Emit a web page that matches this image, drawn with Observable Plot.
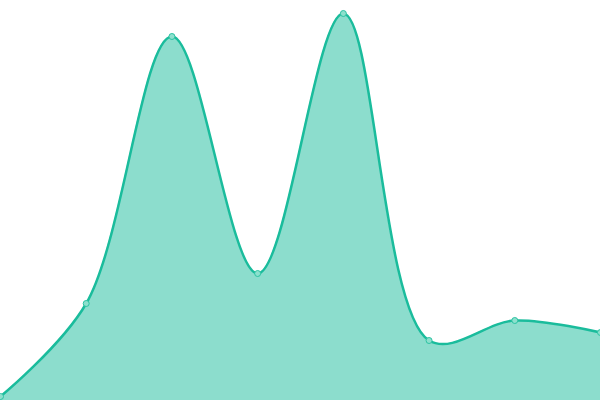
<!DOCTYPE html>
<html>
<head>
<meta charset="utf-8">
<script src="https://cdn.jsdelivr.net/npm/d3@7"></script>
<script src="https://cdn.jsdelivr.net/npm/@observablehq/plot@0.6"></script>
<style>
  html, body { margin: 0; padding: 0; background: #fff; }
  svg { display: block; }
</style>
</head>
<body>
<div id="chart"></div>
<script>
const positions = [0, 1, 2, 3, 4, 5, 6, 7];
const values = [4, 97, 364, 127, 387, 60, 80, 68];

const data = positions.map((p, i) => ({x: p, y: values[i]}));

const chart = Plot.plot({
  width: 600,
  height: 400,
  margin: 0,
  x: {domain: [0, 7], axis: null},
  y: {domain: [0, 400], axis: null},
  marks: [
    Plot.areaY(data, {x: "x", y: "y", curve: "catmull-rom", fill: "#1abc9c", fillOpacity: 0.5}),
    Plot.lineY(data, {x: "x", y: "y", curve: "catmull-rom", stroke: "#1abc9c", strokeWidth: 2.5}),
    Plot.dot(data, {x: "x", y: "y", r: 3, fill: "#8de0cd", stroke: "#2cc3a3", strokeWidth: 1})
  ]
});
document.getElementById("chart").appendChild(chart);
</script>
</body>
</html>
